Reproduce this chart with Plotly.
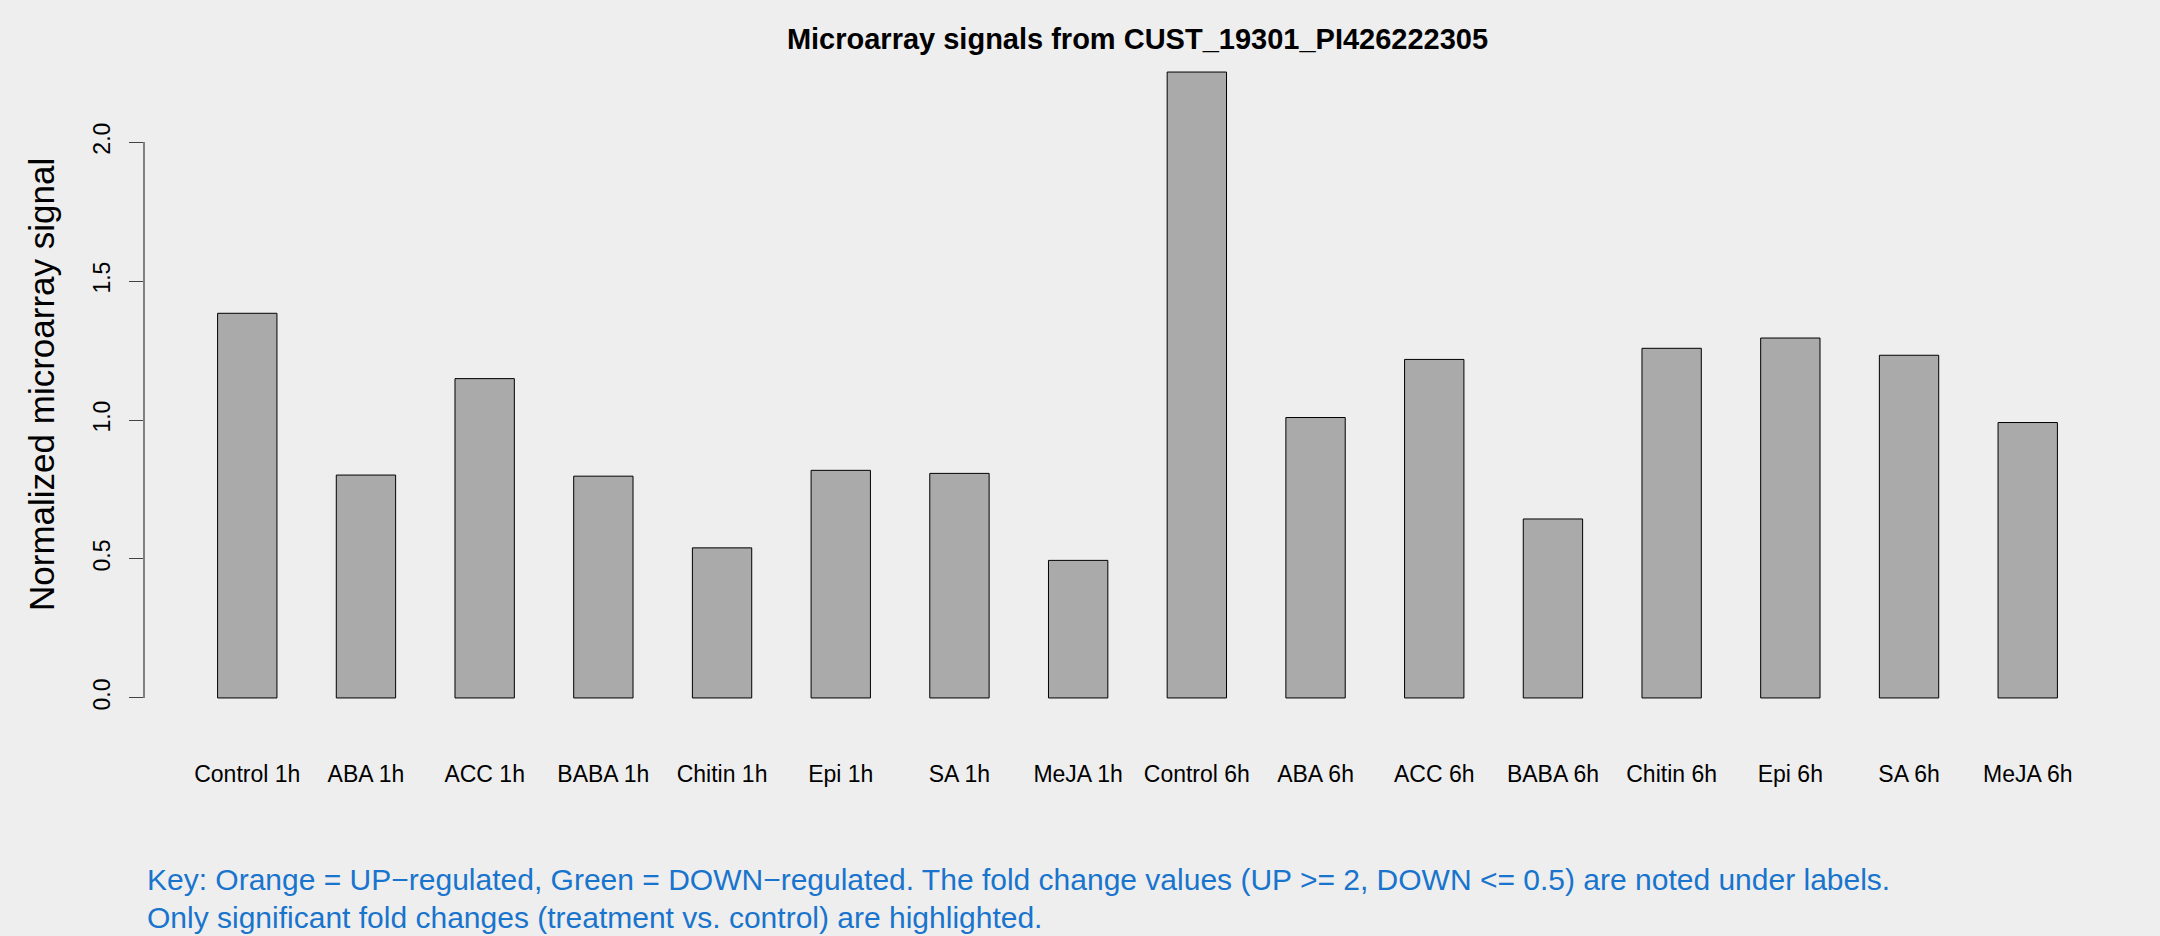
import plotly.graph_objects as go

categories = ["Control 1h", "ABA 1h", "ACC 1h", "BABA 1h", "Chitin 1h", "Epi 1h", "SA 1h", "MeJA 1h",
              "Control 6h", "ABA 6h", "ACC 6h", "BABA 6h", "Chitin 6h", "Epi 6h", "SA 6h", "MeJA 6h"]
signals = [1.384, 0.802, 1.149, 0.798, 0.540, 0.819, 0.808, 0.495,
           2.252, 1.009, 1.218, 0.644, 1.258, 1.295, 1.233, 0.991]
y_ticks = [0.0, 0.5, 1.0, 1.5, 2.0]
y_ticktext = ["0.0", "0.5", "1.0", "1.5", "2.0"]

title_text = "Microarray signals from CUST_19301_PI426222305"
y_title = "Normalized microarray signal"
key_line1 = "Key: Orange = UP\u2212regulated, Green = DOWN\u2212regulated. The fold change values (UP >= 2, DOWN <= 0.5) are noted under labels."
key_line2 = "Only significant fold changes (treatment vs. control) are highlighted."

FONT = "Liberation Sans, Arial, Helvetica, sans-serif"
BG = "#EEEEEE"

ymax = max(signals)
yrange = [-0.04 * ymax, ymax * 1.04]

fig = go.Figure()
fig.add_trace(go.Bar(
    x=categories, y=signals,
    marker=dict(color="#AAAAAA", line=dict(color="#000000", width=1)),
    width=0.5,
    hoverinfo="x+y",
))

# R-style y axis line spanning only the tick range
fig.add_shape(type="line", xref="paper", yref="y", x0=0, x1=0, y0=y_ticks[0], y1=y_ticks[-1],
              line=dict(color="#444444", width=1.3))

fig.update_layout(
    width=2160, height=936, autosize=False,
    paper_bgcolor=BG, plot_bgcolor=BG,
    margin=dict(l=144, r=29, t=47, b=213, pad=0),
    showlegend=False,
    font=dict(family=FONT, color="#000000"),
    title=dict(text=title_text, x=0.5, xref="paper", xanchor="center",
               y=1 - 38.6 / 936, yanchor="middle",
               font=dict(family=FONT, size=29, color="#000000", weight="bold")),
    xaxis=dict(
        type="category", range=[-0.87, len(categories) - 1 + 0.87],
        showgrid=False, zeroline=False, showline=False,
        ticks="outside", ticklen=0, tickcolor=BG,
        ticklabelstandoff=30,
        tickfont=dict(family=FONT, size=23, color="#000000"),
        tickangle=0,
    ),
    yaxis=dict(
        range=yrange, showgrid=False, zeroline=False, showline=False,
        tickmode="array", tickvals=y_ticks, ticktext=y_ticktext,
        ticks="outside", ticklen=14, tickwidth=1.3, tickcolor="#444444",
        tickangle=-90, ticklabelstandoff=10,
        tickfont=dict(family=FONT, size=23, color="#000000"),
    ),
)

fig.add_annotation(text=y_title, xref="paper", yref="paper", x=(41 - 144) / 1987, y=0.5,
                   xanchor="center", yanchor="middle", textangle=-90, showarrow=False,
                   font=dict(family=FONT, size=35, color="#000000"))
fig.add_annotation(text=key_line1, xref="paper", yref="paper", x=(145 - 144) / 1987,
                   y=(723 - 880) / 676, xanchor="left", yanchor="middle", showarrow=False,
                   font=dict(family=FONT, size=30, color="#1874CD"))
fig.add_annotation(text=key_line2, xref="paper", yref="paper", x=(145 - 144) / 1987,
                   y=(723 - 917) / 676, xanchor="left", yanchor="middle", showarrow=False,
                   font=dict(family=FONT, size=30, color="#1874CD"))

fig.write_html("out.html", config={"displayModeBar": False},
               post_script="document.body.style.margin='0';document.body.style.overflow='hidden';")
